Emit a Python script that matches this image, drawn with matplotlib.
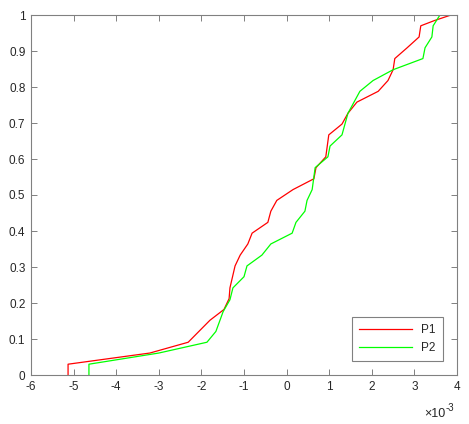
import numpy as np
import matplotlib
matplotlib.use('Agg')
import matplotlib.pyplot as plt
from matplotlib.ticker import FuncFormatter, MultipleLocator

p1_x = [-5.13, -5.13, -3.21, -2.31, -1.80, -1.47, -1.35, -1.33, -1.21, -1.09,
        -0.91, -0.81, -0.44, -0.37, -0.23, 0.15, 0.64, 0.69, 0.92, 0.99,
        1.30, 1.44, 1.65, 2.15, 2.38, 2.50, 2.54, 2.83, 3.11, 3.15, 3.48, 3.86]
p1_y = [0.0, 0.030, 0.061, 0.091, 0.152, 0.182, 0.212, 0.242, 0.303, 0.333,
        0.364, 0.394, 0.424, 0.455, 0.485, 0.515, 0.545, 0.576, 0.606, 0.667,
        0.697, 0.727, 0.758, 0.788, 0.818, 0.848, 0.879, 0.909, 0.939, 0.970, 0.985, 1.0]

p2_x = [-4.64, -4.64, -3.00, -1.87, -1.66, -1.49, -1.33, -1.26, -1.00, -0.93,
        -0.58, -0.37, 0.13, 0.22, 0.43, 0.48, 0.60, 0.67, 0.97, 1.02,
        1.30, 1.44, 1.72, 2.03, 2.50, 3.20, 3.25, 3.41, 3.44, 3.60]
p2_y = [0.0, 0.030, 0.061, 0.091, 0.121, 0.176, 0.209, 0.242, 0.273, 0.303,
        0.333, 0.364, 0.394, 0.424, 0.455, 0.485, 0.515, 0.576, 0.606, 0.636,
        0.667, 0.727, 0.788, 0.818, 0.848, 0.879, 0.909, 0.939, 0.970, 1.0]

scale = 1e-3

plt.rcParams['font.family'] = ['Liberation Sans', 'DejaVu Sans']
plt.rcParams['axes.unicode_minus'] = False

fig = plt.figure(figsize=(4.69, 4.24), dpi=100)
ax = fig.add_axes([31/469, 49/424, 426/469, 360/424])

ax.plot(np.array(p1_x) * scale, p1_y, color='#ff0000', lw=0.9, label='P1')
ax.plot(np.array(p2_x) * scale, p2_y, color='#00ff00', lw=0.9, label='P2')

ax.set_xlim(-6 * scale, 4 * scale)
ax.set_ylim(0, 1)
ax.xaxis.set_major_locator(MultipleLocator(scale))
ax.yaxis.set_major_locator(MultipleLocator(0.1))
ax.xaxis.set_major_formatter(FuncFormatter(lambda v, p: '%g' % round(v / scale, 3)))
ax.yaxis.set_major_formatter(FuncFormatter(lambda v, p: '%g' % round(v, 2)))

axc = '#808080'
txt = '#262626'
for s in ax.spines.values():
    s.set_color(axc)
    s.set_linewidth(0.8)
ax.tick_params(direction='in', length=4, width=0.7, color=axc, labelcolor=txt,
               labelsize=8.5, top=True, right=True, pad=4)

# exponent label, MATLAB style
fig.text(445/469, 7/424, '\u00d710', ha='right', va='baseline', fontsize=9, color=txt)
fig.text(446/469, 13/424, '-3', ha='left', va='baseline', fontsize=7, color=txt)

leg = ax.legend(loc='lower right', fontsize=8.5, frameon=True, fancybox=False,
                edgecolor=axc, framealpha=1, borderaxespad=1.2, borderpad=0.6,
                handlelength=4.5, labelspacing=0.45)
leg.get_frame().set_linewidth(0.8)
for t in leg.get_texts():
    t.set_color(txt)

fig.savefig('out.png', dpi=100)
